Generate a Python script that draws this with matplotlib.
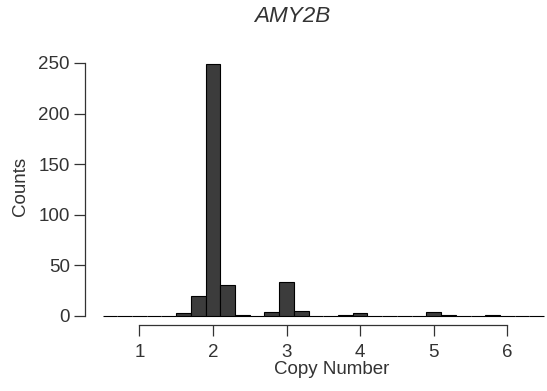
import matplotlib
matplotlib.use("Agg")
import matplotlib.pyplot as plt
import numpy as np

plt.rcParams['font.family'] = ['Liberation Sans', 'DejaVu Sans']

# histogram of copy number, bins of width 0.2 from 0.5 to 6.5
bin_centers = np.round(np.arange(0.6, 6.5, 0.2), 1)
counts = [0, 0, 0, 0, 0, 3, 20, 249, 31, 1,
          0, 4, 34, 5, 0, 0, 1, 3, 0, 0,
          0, 0, 4, 1, 0, 0, 1, 0, 0, 0]
x_ticks = [1, 2, 3, 4, 5, 6]
y_ticks = [0, 50, 100, 150, 200, 250]

txt = '#333333'

fig = plt.figure(figsize=(5.47, 3.91), dpi=100)
ax = fig.add_axes([85/547, (391-325)/391, (547-85)/547, (325-55)/391])

ax.bar(bin_centers, counts, width=0.2, color='#3c3c3c', edgecolor='black', linewidth=0.8)

ax.set_xlim(0.262, 6.539)
ax.set_ylim(-8.9, 257.9)

for s in ['top', 'right']:
    ax.spines[s].set_visible(False)
ax.spines['left'].set_bounds(0, 250)
ax.spines['bottom'].set_bounds(1, 6)
for s in ['left', 'bottom']:
    ax.spines[s].set_color(txt)
    ax.spines[s].set_linewidth(0.9)

ax.set_xticks(x_ticks)
ax.set_yticks(y_ticks)
ax.tick_params(direction='out', length=8, width=0.9, color=txt,
               labelcolor=txt, labelsize=13.5)
ax.tick_params(axis='y', pad=3)
ax.tick_params(axis='x', pad=6)

# axis labels and title placed where the reference has them
fig.text(332/547, 1 - 370/391, 'Copy Number', fontsize=13.5, color=txt,
         ha='center', va='center')
fig.text(20/547, 1 - 186/391, 'Counts', fontsize=13.5, color=txt,
         ha='center', va='center', rotation=90)
fig.text(292/547, 1 - 16/391, 'AMY2B', fontsize=16.2, fontstyle='italic',
         color=txt, ha='center', va='center')

fig.savefig('out.png', dpi=100)
